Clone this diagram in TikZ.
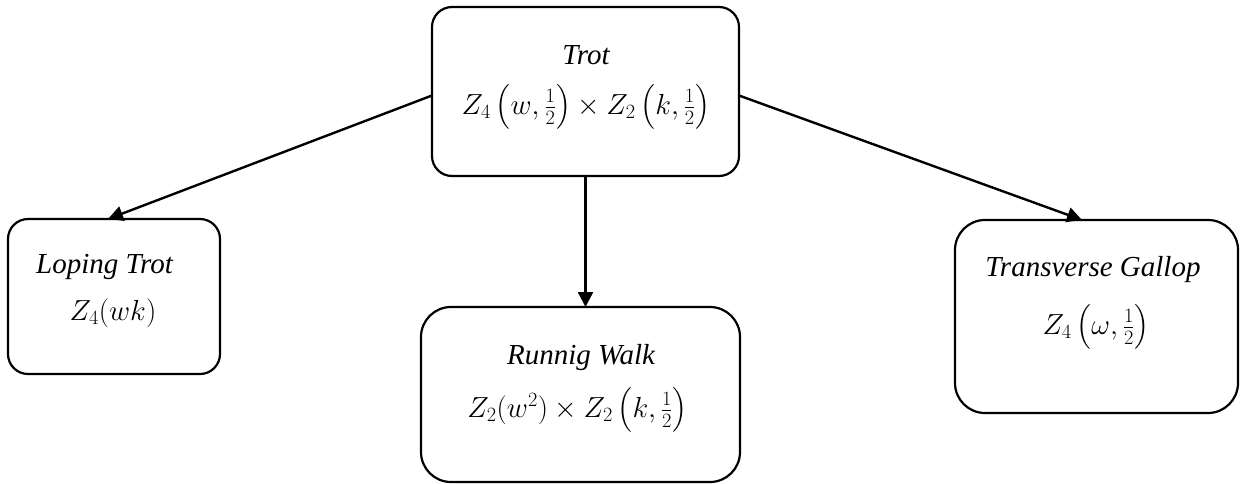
\RequirePackage{fix-cm}
\documentclass[tikz,border=0pt]{standalone}
\usepackage{amsmath}
\usepackage{fontspec}
\setmainfont{Liberation Serif}
\usetikzlibrary{arrows.meta}
\begin{document}
\begin{tikzpicture}[x=1pt,y=-1pt,
  box/.style={draw,line width=2.2pt,rounded corners=#1,inner sep=0pt,outer sep=0pt},
  box/.default=20pt,
  lbl/.style={inner sep=0pt,font=\fontsize{29}{34}\selectfont\itshape},
  mth/.style={inner sep=0pt,font=\fontsize{29}{34}\selectfont},
  arr/.style={line width=2.4pt,-{Triangle[length=15pt,width=15pt]}}]
\useasboundingbox (0,0) rectangle (1240,483);
% boxes
\node[box,minimum width=307pt,minimum height=169pt] (trot) at (585.5,91.5) {};
\node[box,minimum width=212pt,minimum height=155pt] (lope) at (114,296.5) {};
\node[box=30pt,minimum width=319pt,minimum height=175pt] (run) at (580.5,394.5) {};
\node[box=30pt,minimum width=283pt,minimum height=193pt] (trans) at (1096.5,316.5) {};
% texts
\node[lbl] (ttrot) at (586,55) {Trot};
\node[mth] (mtrot) at (586,107) {$Z_4\left(w,\tfrac{1}{2}\right)\times Z_2\left(k,\tfrac{1}{2}\right)$};
\node[lbl] (tlope) at (104.5,267) {Loping Trot};
\node[mth] (mlope) at (113,313) {$Z_4(wk)$};
\node[lbl] (trun) at (581,358) {Runnig Walk};
\node[mth] (mrun) at (577.5,410) {$Z_2(w^2)\times Z_2\left(k,\tfrac{1}{2}\right)$};
\node[lbl] (ttrans) at (1093,270) {Transverse Gallop};
\node[mth] (mtrans) at (1096,327) {$Z_4\left(\omega,\tfrac{1}{2}\right)$};
% arrows
\draw[arr] ([yshift=-4pt]trot.west) -- ([xshift=-6pt]lope.north);
\draw[arr] (trot.south) -- (trot.south |- run.north);
\draw[arr] ([yshift=-4pt]trot.east) -- ([xshift=-14.5pt]trans.north);
\end{tikzpicture}
\end{document}
